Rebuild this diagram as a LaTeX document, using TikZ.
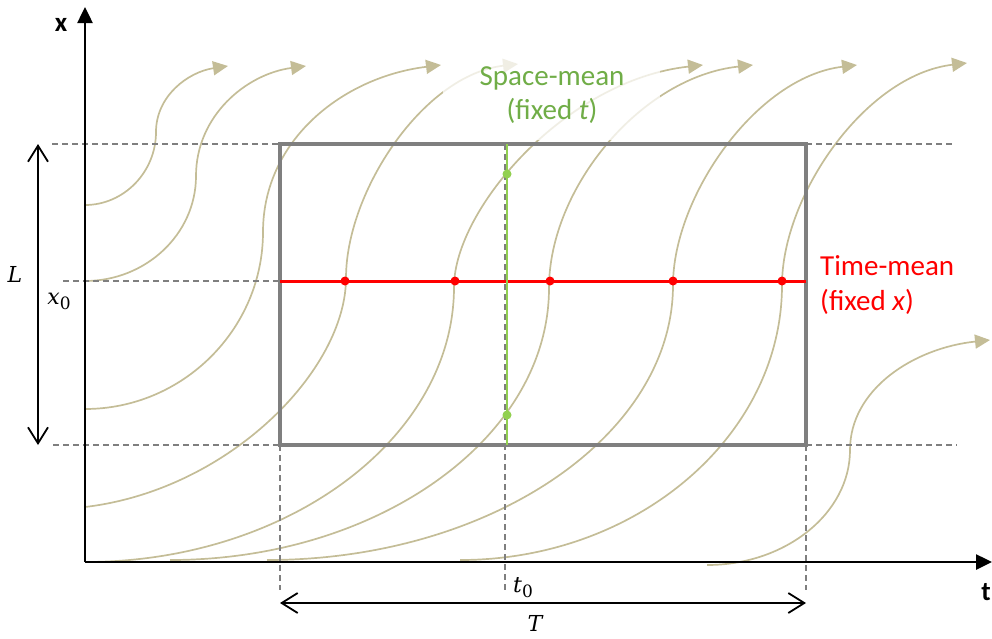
\documentclass[tikz,border=0pt]{standalone}
\usepackage{fontspec}
\newfontfamily\calibrifont{Carlito}
\newfontfamily\cambriafont{DejaVu Serif}
\usetikzlibrary{arrows.meta}
\definecolor{trajcol}{HTML}{C4BD97}
\definecolor{boxgray}{HTML}{7F7F7F}
\definecolor{spacegreen}{HTML}{70AD47}
\definecolor{dotgreen}{HTML}{92D050}
\definecolor{meanred}{HTML}{FF0000}
\newcommand{\subzero}{\raisebox{-5pt}{\fontsize{17}{18}\selectfont\upshape 0}}
\begin{document}
\begin{tikzpicture}[x=1pt,y=-1pt,
  traj/.style={draw=trajcol, line width=1.7pt, -{Triangle[length=15pt,width=14pt]}},
  axis/.style={draw=black, line width=2.5pt, -{Triangle[length=16pt,width=15pt]}},
  guide/.style={draw=boxgray, line width=1.1pt, dash pattern=on 6pt off 4pt},
  dimarrow/.style={draw=black, line width=1.8pt, {Straight Barb[length=16pt,width=20pt]}-{Straight Barb[length=16pt,width=20pt]}},
  reddot/.style={circle, fill=meanred, inner sep=0pt, minimum size=9pt},
  greendot/.style={circle, fill=dotgreen, inner sep=0pt, minimum size=9pt},
  lbl/.style={inner sep=0pt, font=\calibrifont\fontsize{29}{34}\selectfont},
  mathlbl/.style={inner sep=0pt, font=\cambriafont\fontsize{22}{26}\selectfont\itshape},
  axlbl/.style={inner sep=0pt, font=\calibrifont\fontsize{27}{30}\selectfont\bfseries}]
\useasboundingbox (0,0) rectangle (992,638);

% trajectories
\draw[traj] (85,205) .. controls (124,205) and (156,172) .. (156,132)
  .. controls (156,96) and (188,72) .. (228,66);
\draw[traj] (85,281) .. controls (146,281) and (196,234) .. (196,176)
  .. controls (196,116) and (246,74) .. (306,66);
\draw[traj] (85,409) .. controls (183,409) and (263,329) .. (263,232)
  .. controls (263,140) and (343,77) .. (441,65);
\draw[traj] (85,507) .. controls (229,490) and (346,370) .. (346,278)
  .. controls (346,192) and (423,75) .. (518,64);
\draw[traj] (85,562) .. controls (288,562) and (454,438) .. (454,287)
  .. controls (454,209) and (566,80) .. (703,65);
\draw[traj] (170,560) .. controls (378,560) and (549,438) .. (549,288)
  .. controls (549,188) and (641,77) .. (753,65);
\draw[traj] (267,560) .. controls (490,560) and (673,436) .. (673,285)
  .. controls (673,197) and (756,77) .. (857,65);
\draw[traj] (460,560) .. controls (637,560) and (782,436) .. (782,285)
  .. controls (782,196) and (865,75) .. (967,63);
\draw[traj] (707,565) .. controls (786,565) and (850,513) .. (850,450)
  .. controls (850,389) and (914,348) .. (990,340);

% guide coordinates
\coordinate (gTL) at (52,144);
\coordinate (gML) at (63,281);
\coordinate (gBL) at (53,445);
\coordinate (gTR) at (955,144);
\coordinate (gBR) at (957,445);
\coordinate (rTL) at (280,144);
\coordinate (rTR) at (806,144);
\coordinate (rBL) at (280,445);
\coordinate (rBR) at (806,445);
\coordinate (rML) at (280,281);
\coordinate (rMR) at (806,281);
\coordinate (vLb) at (280,590);
\coordinate (vRb) at (806,590);
\coordinate (t0top) at (505,144);
\coordinate (t0b) at (505,590);
\coordinate (gTop) at (507,144);
\coordinate (gBot) at (507,445);

\draw[guide] (gTL) -- (rTL);
\draw[guide] (rTR) -- (gTR);
\draw[guide] (gML) -- (rML);
\draw[guide] (gBL) -- (rBL);
\draw[guide] (rBR) -- (gBR);
\draw[guide] (rBL) -- (vLb);
\draw[guide] (rBR) -- (vRb);
\draw[guide] (t0top) -- (t0b);

% axes
\coordinate (O) at (85,562);
\coordinate (ytip) at (85,7);
\coordinate (xtip) at (992,562);
\draw[axis] (O) -- (ytip);
\draw[axis] (O) -- (xtip);
\node[axlbl] (xlab) at (61,25) {x};
\node[axlbl] (tlab) at (986,592) {t};

% averaging region
\draw[draw=boxgray, line width=4.5pt] (rTL) rectangle (rBR);
\draw[draw=meanred, line width=3pt] (rML) -- (rMR);
\draw[draw=dotgreen, line width=2.5pt] (gTop) -- (gBot);

\node[reddot] (r1) at (345,281) {};
\node[reddot] (r2) at (455,281) {};
\node[reddot] (r3) at (550,281) {};
\node[reddot] (r4) at (673,281) {};
\node[reddot] (r5) at (782,281) {};
\node[greendot] (g1) at (507,174) {};
\node[greendot] (g2) at (507,415) {};

% dimension arrows
\coordinate (Ltop) at (38,144);
\coordinate (Lbot) at (38,445);
\draw[dimarrow] (Ltop) -- (Lbot);
\coordinate (Tl) at (280,603);
\coordinate (Tr) at (806,603);
\draw[dimarrow] (Tl) -- (Tr);

\node[mathlbl, anchor=base] (Llab) at (15,282) {L};
\node[mathlbl, anchor=base] (x0lab) at (59,304) {x\subzero};
\node[mathlbl, anchor=base] (t0lab) at (523,592) {t\subzero};
\node[mathlbl, anchor=base] (Tlab) at (535,631) {T};

% labels
\node[fill=white, fill opacity=0.75, inner sep=0pt, minimum width=217pt, minimum height=86pt] (spacebox) at (551.5,97) {};
\node[lbl, text=spacegreen, anchor=base] (space1) at (552,85) {Space-mean};
\node[lbl, text=spacegreen, anchor=base] (space2) at (552,119) {(fixed \textit{t})};
\node[lbl, text=meanred, anchor=base west] (time1) at (820,275) {Time-mean};
\node[lbl, text=meanred, anchor=base west] (time2) at (820,310) {(fixed \textit{x})};
\end{tikzpicture}
\end{document}
